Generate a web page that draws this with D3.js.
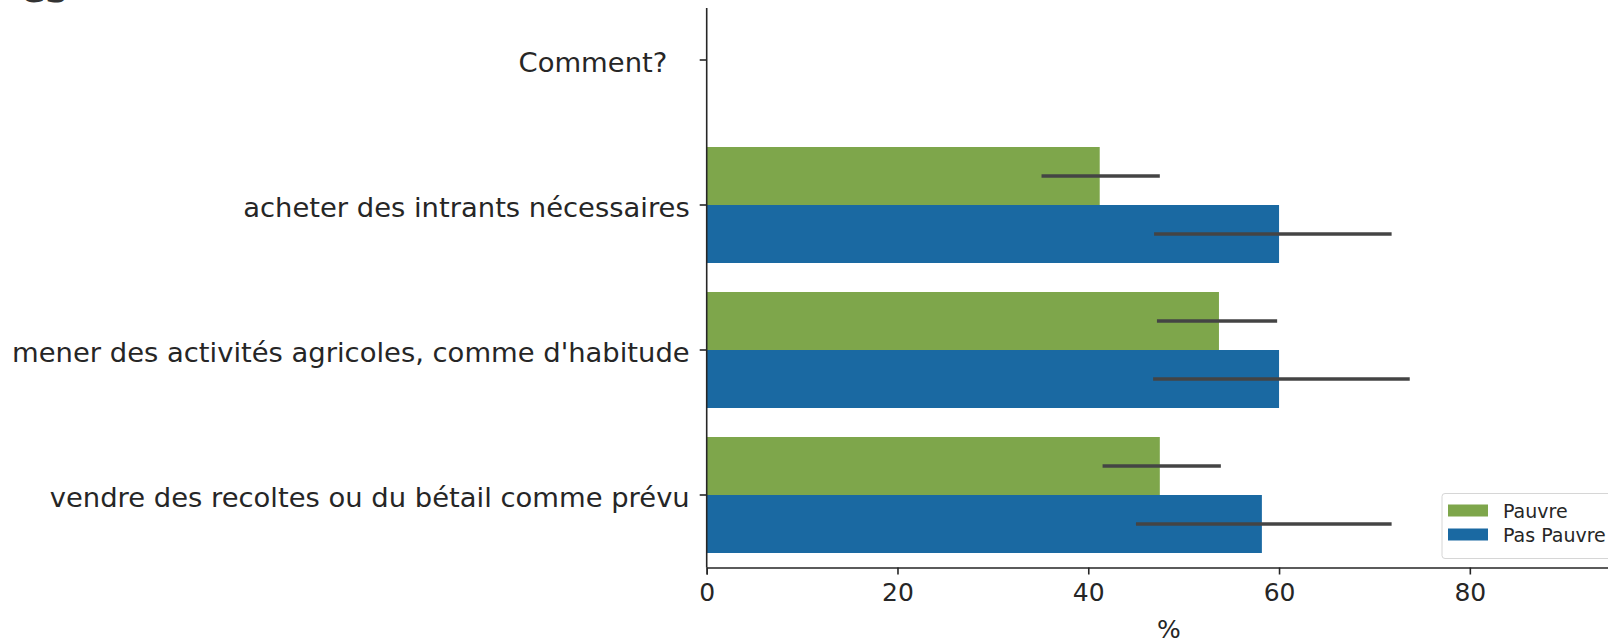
<!DOCTYPE html>
<html>
<head>
<meta charset="utf-8">
<script src="https://cdnjs.cloudflare.com/ajax/libs/d3/7.8.5/d3.min.js"></script>
<style>
  html, body { margin: 0; padding: 0; background: #ffffff; }
  svg { display: block; font-family: "DejaVu Sans", sans-serif; }
</style>
</head>
<body>
<svg id="chart" width="1608" height="639"></svg>
<script>
// ---- data ----
const categories = [
  "Comment?",
  "acheter des intrants nécessaires",
  "mener des activités agricoles, comme d'habitude",
  "vendre des recoltes ou du bétail comme prévu"
];
const seriesNames = ["Pauvre", "Pas Pauvre"];
const pauvre       = [null, 41.2, 53.7, 47.5];
const pauvreLow    = [null, 35.1, 47.2, 41.5];
const pauvreHigh   = [null, 47.5, 59.8, 53.9];
const pasPauvre     = [null, 60.0, 60.0, 58.2];
const pasPauvreLow  = [null, 46.9, 46.8, 45.0];
const pasPauvreHigh = [null, 71.8, 73.7, 71.8];
const xTicks = [0, 20, 40, 60, 80];
const xLabel = "%";

// ---- layout ----
const svg = d3.select("#chart");
const plotLeft = 706.7, plotRight = 1632, plotTop = -12.5, plotBottom = 567.5;
const colors = { "Pauvre": "#7ea64b", "Pas Pauvre": "#1a69a2" };

const x = d3.scaleLinear().domain([0, 97]).range([plotLeft, plotRight]);
const y = d3.scaleBand().domain(categories).range([plotTop, plotBottom]).padding(0);
const ySub = d3.scaleBand().domain(seriesNames).range([0, y.bandwidth()]).paddingInner(0).paddingOuter(0.25);

const rows = [];
categories.forEach((c, i) => {
  rows.push({ cat: c, s: "Pauvre", v: pauvre[i], lo: pauvreLow[i], hi: pauvreHigh[i] });
  rows.push({ cat: c, s: "Pas Pauvre", v: pasPauvre[i], lo: pasPauvreLow[i], hi: pasPauvreHigh[i] });
});
const valid = rows.filter(d => d.v != null);

// title fragment cut at top
svg.append("text").attr("x", 21).attr("y", 2)
  .attr("font-size", 36).attr("font-weight", "bold").attr("fill", "#333")
  .text("es");

// bars
svg.append("g").selectAll("rect").data(valid).join("rect")
  .attr("x", x(0))
  .attr("y", d => y(d.cat) + ySub(d.s))
  .attr("width", d => x(d.v) - x(0))
  .attr("height", ySub.bandwidth())
  .attr("fill", d => colors[d.s]);

// error bars
svg.append("g").selectAll("line").data(valid).join("line")
  .attr("x1", d => x(d.lo)).attr("x2", d => x(d.hi))
  .attr("y1", d => y(d.cat) + ySub(d.s) + ySub.bandwidth() / 2)
  .attr("y2", d => y(d.cat) + ySub(d.s) + ySub.bandwidth() / 2)
  .attr("stroke", "#444444").attr("stroke-width", 3.5);

// x axis
const xAxis = svg.append("g").attr("transform", `translate(0,${plotBottom})`)
  .call(d3.axisBottom(x).tickValues(xTicks).tickFormat(d3.format("d")).tickSizeOuter(0).tickSize(7).tickPadding(9));
xAxis.select(".domain").attr("stroke", "#262626").attr("stroke-width", 1.6);
xAxis.selectAll(".tick line").attr("stroke", "#262626").attr("stroke-width", 1.6);
xAxis.selectAll(".tick text").attr("font-size", 25).attr("fill", "#262626").attr("font-family", "DejaVu Sans");

svg.append("text").attr("x", 1169).attr("y", 638)
  .attr("text-anchor", "middle").attr("font-size", 25).attr("fill", "#262626")
  .text(xLabel);

// y axis
const yAxis = svg.append("g").attr("transform", `translate(${plotLeft},0)`)
  .call(d3.axisLeft(y).tickSize(7).tickPadding(10));
yAxis.select(".domain").remove();
yAxis.selectAll(".tick line").attr("stroke", "#262626").attr("stroke-width", 1.6);
yAxis.selectAll(".tick text").attr("font-size", 27.4).attr("fill", "#262626")
  .attr("font-family", "DejaVu Sans")
  .attr("dy", "0.42em")
  .style("white-space", "pre")
  .text(d => d === "Comment?" ? d + "\u2002 " : d);
svg.append("line").attr("x1", plotLeft).attr("x2", plotLeft)
  .attr("y1", 8).attr("y2", plotBottom)
  .attr("stroke", "#262626").attr("stroke-width", 1.6);

// legend
const lg = svg.append("g").attr("transform", "translate(1442,493.5)");
lg.append("rect").attr("x", 0).attr("y", 0).attr("width", 200).attr("height", 65)
  .attr("rx", 3).attr("fill", "#ffffff").attr("fill-opacity", 0.8)
  .attr("stroke", "#d6d6d6").attr("stroke-width", 1);
seriesNames.forEach((s, i) => {
  lg.append("rect").attr("x", 6).attr("y", 11 + i * 24).attr("width", 40).attr("height", 12)
    .attr("fill", colors[s]);
  lg.append("text").attr("x", 61).attr("y", 24 + i * 24)
    .attr("font-size", 19).attr("fill", "#262626").text(s);
});
</script>
</body>
</html>
